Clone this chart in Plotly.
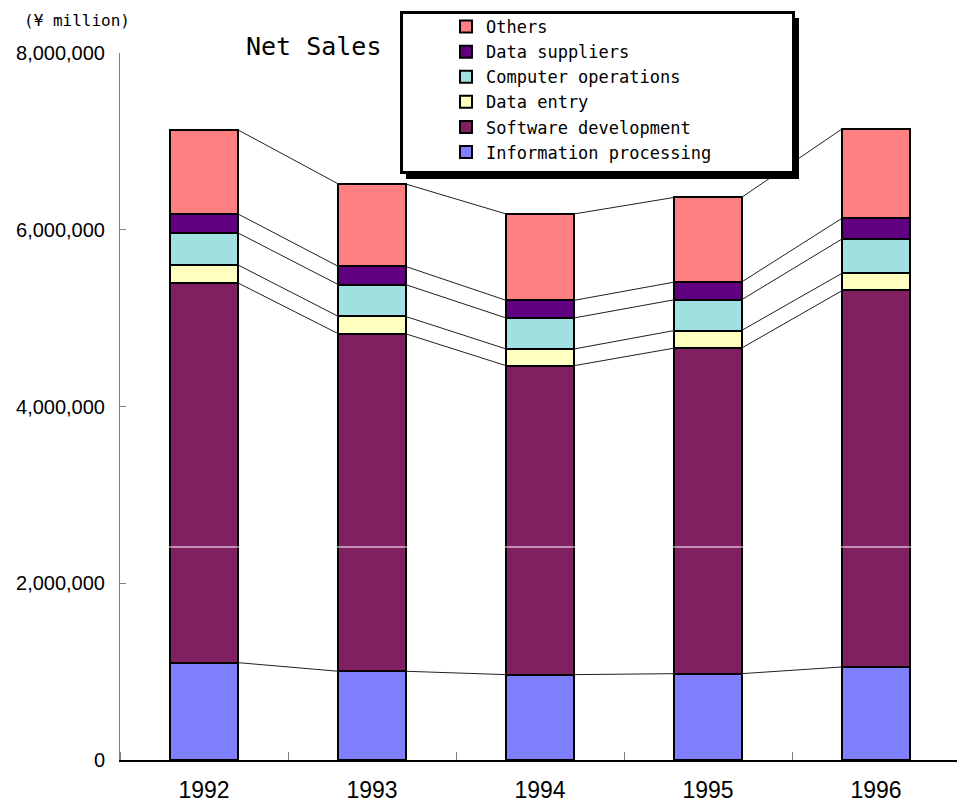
import plotly.graph_objects as go

years = ["1992", "1993", "1994", "1995", "1996"]
info_processing = [1102000, 1004000, 966000, 977000, 1053000]
software_dev = [4298000, 3819000, 3495000, 3684000, 4260000]
data_entry = [204000, 196000, 189000, 199000, 197000]
computer_ops = [362000, 360000, 351000, 348000, 388000]
data_suppliers = [215000, 206000, 199000, 200000, 235000]
others = [951000, 933000, 978000, 958000, 1011000]

series_names = ["Information processing", "Software development", "Data entry",
                "Computer operations", "Data suppliers", "Others"]
series_values = [info_processing, software_dev, data_entry, computer_ops, data_suppliers, others]
series_colors = ["#8080FF", "#802060", "#FFFFC0", "#A0E0E0", "#600080", "#FF8080"]

y_ticks = [0, 2000000, 4000000, 6000000, 8000000]

W, H = 957, 806
ML, MR, MT, MB = 120, 0, 53, 46
PW, PH = W - ML - MR, H - MT - MB
CAT_PX = 168.0
BAR_W = 0.4

def px_x(p):
    return (p - ML) / PW

def px_y(p):
    return (H - MB - p) / PH

xs = list(range(len(years)))
fig = go.Figure()

for name, vals, col in zip(series_names, series_values, series_colors):
    fig.add_trace(go.Bar(
        x=xs, y=vals, name=name, width=BAR_W,
        marker=dict(color=col, line=dict(color="black", width=2)),
    ))

# connector lines between stacked boundaries
cum = [0] * len(years)
for vals in series_values:
    cum = [c + v for c, v in zip(cum, vals)]
    lx, ly = [], []
    for i in range(len(years) - 1):
        lx += [xs[i] + BAR_W / 2, xs[i + 1] - BAR_W / 2, None]
        ly += [cum[i], cum[i + 1], None]
    fig.add_trace(go.Scatter(x=lx, y=ly, mode="lines", showlegend=False,
                             line=dict(color="#202020", width=1), hoverinfo="skip"))

shapes = [
    # legend shadow
    dict(type="rect", xref="paper", yref="paper", layer="above",
         x0=px_x(406), x1=px_x(799), y0=px_y(179), y1=px_y(18),
         fillcolor="black", line=dict(width=0)),
    # legend box
    dict(type="rect", xref="paper", yref="paper", layer="above",
         x0=px_x(401.5), x1=px_x(793.5), y0=px_y(172.5), y1=px_y(12.5),
         fillcolor="white", line=dict(color="black", width=3)),
    # scan artifact white line
    dict(type="line", xref="paper", yref="paper", layer="above",
         x0=px_x(121), x1=1, y0=px_y(547), y1=px_y(547),
         line=dict(color="white", width=1)),
]

annotations = [
    dict(text="(¥ million)", xref="paper", yref="paper", x=px_x(22), y=px_y(20),
         xanchor="left", yanchor="middle", showarrow=False,
         font=dict(family="DejaVu Sans Mono", size=16, color="black")),
    dict(text="Net Sales", xref="paper", yref="paper", x=px_x(244), y=px_y(47),
         xanchor="left", yanchor="middle", showarrow=False,
         font=dict(family="DejaVu Sans Mono", size=25, color="black")),
]

fig.update_layout(
    width=W, height=H, autosize=False,
    margin=dict(l=ML, r=MR, t=MT, b=MB, pad=0),
    plot_bgcolor="white", paper_bgcolor="white",
    barmode="stack", bargap=0,
    shapes=shapes, annotations=annotations,
    legend=dict(
        x=px_x(446), y=px_y(9), xanchor="left", yanchor="top",
        traceorder="reversed", bgcolor="rgba(0,0,0,0)", borderwidth=0,
        font=dict(family="DejaVu Sans Mono", size=17, color="black"),
    ),
    xaxis=dict(
        range=[-0.5, -0.5 + PW / CAT_PX],
        tickmode="array", tickvals=xs, ticktext=years,
        ticks="", showgrid=False, zeroline=False, automargin=False,
        showline=True, linecolor="black", linewidth=1.5,
        tickfont=dict(family="Liberation Sans", size=23, color="black"),
        ticklabelstandoff=9,
        minor=dict(tick0=0.5, dtick=1, ticks="inside", ticklen=8,
                   tickcolor="#808080", tickwidth=1),
    ),
    yaxis=dict(
        range=[0, 8000000], tickmode="array", tickvals=y_ticks,
        tickformat=",", ticks="inside", ticklen=6, tickcolor="#808080",
        showgrid=False, zeroline=False, automargin=False,
        showline=True, linecolor="#808080", linewidth=1,
        tickfont=dict(family="Liberation Sans", size=20, color="black"),
        ticklabelstandoff=10,
    ),
)

fig.write_html("out.html")
